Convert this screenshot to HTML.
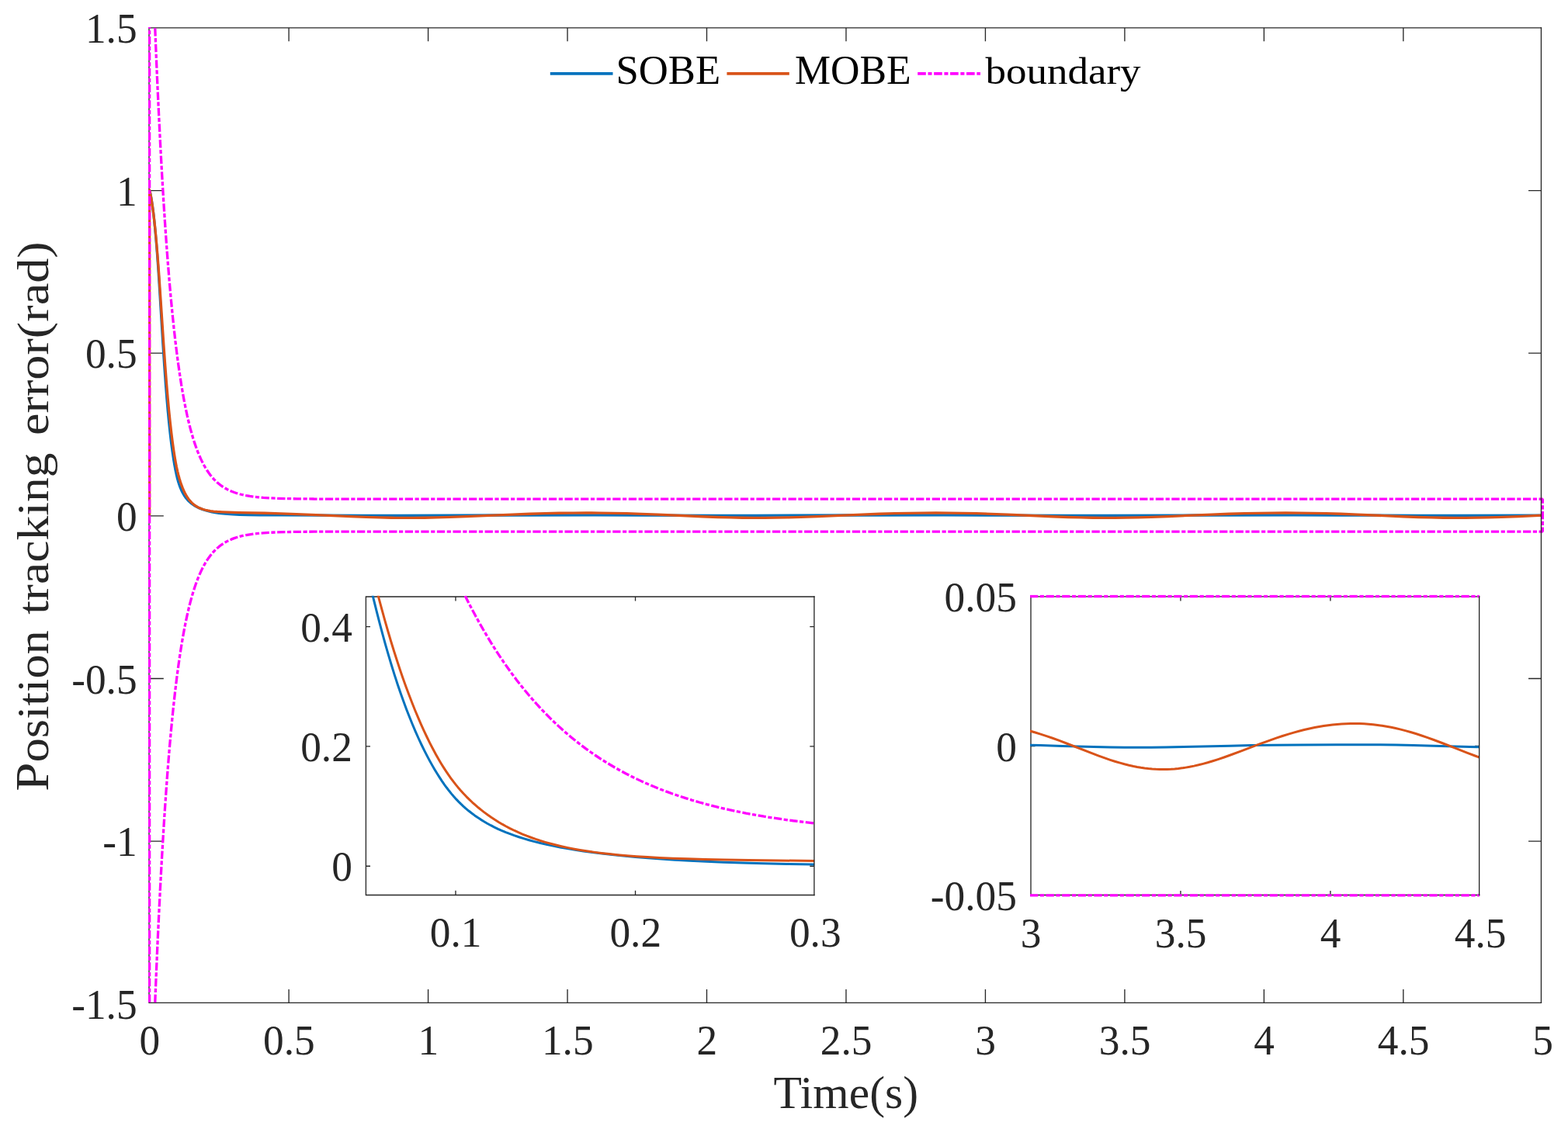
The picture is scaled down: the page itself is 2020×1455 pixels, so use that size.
<!DOCTYPE html>
<html lang="en">
<head>
<meta charset="utf-8">
<title>Position tracking error</title>
<style>
html,body{margin:0;padding:0;background:#fff;}
body{width:2020px;height:1455px;overflow:hidden;}
svg{display:block;}
text{font-family:"Liberation Serif","DejaVu Serif",serif;}
</style>
</head>
<body>
<svg width="2020" height="1455" viewBox="0 0 2020 1455">
<rect width="2020" height="1455" fill="#fff"/>
<g id="main">
<clipPath id="clip-main"><rect x="190.90" y="34.70" width="1798.30" height="1259.30"/></clipPath>
<g stroke="#262626" stroke-width="1.33" fill="none">
<path d="M1986.12 35.90H192.00V1292.40H1986.12"/>
<path d="M372.10 1292.40V1275.00M372.10 35.90V53.30M551.57 1292.40V1275.00M551.57 35.90V53.30M731.04 1292.40V1275.00M731.04 35.90V53.30M910.50 1292.40V1275.00M910.50 35.90V53.30M1089.97 1292.40V1275.00M1089.97 35.90V53.30M1269.44 1292.40V1275.00M1269.44 35.90V53.30M1448.91 1292.40V1275.00M1448.91 35.90V53.30M1628.38 1292.40V1275.00M1628.38 35.90V53.30M1807.84 1292.40V1275.00M1807.84 35.90V53.30M192.00 1084.15H210.80M1985.45 1084.15H1969.05M192.00 874.50H210.80M1985.45 874.50H1969.05M192.00 664.85H210.80M1985.45 664.85H1969.05M192.00 455.20H210.80M1985.45 455.20H1969.05M192.00 245.55H210.80M1985.45 245.55H1969.05"/>
</g>
<g clip-path="url(#clip-main)" fill="none" stroke-width="3.3" stroke-linejoin="round">
<path d="M192.63 244.80 L193.47 248.31 L194.43 253.02 L195.39 258.53 L196.46 265.72 L197.54 274.02 L198.62 283.44 L199.81 295.28 L201.13 309.97 L202.45 326.40 L203.76 344.72 L205.44 370.60 L209.74 441.04 L211.66 470.37 L213.33 493.92 L214.89 513.75 L216.32 530.31 L217.76 545.27 L219.20 558.72 L220.63 570.81 L222.07 581.63 L223.38 590.52 L224.70 598.49 L226.02 605.59 L227.21 611.28 L228.41 616.26 L229.49 620.19 L230.68 624.01 L231.88 627.37 L233.19 630.61 L234.51 633.47 L235.83 636.00 L237.14 638.24 L238.58 640.39 L240.13 642.45 L241.69 644.26 L243.36 646.00 L245.16 647.65 L247.07 649.22 L249.11 650.68 L251.26 652.04 L253.65 653.37 L256.29 654.64 L259.16 655.85 L262.27 656.98 L265.62 658.03 L269.21 658.99 L273.04 659.85 L277.22 660.62 L281.89 661.32 L287.15 661.94 L293.14 662.46 L300.08 662.91 L308.57 663.28 L319.46 663.57 L334.89 663.79 L363.97 663.96 L465.43 664.30 L514.78 664.33 L652.97 664.00 L767.83 663.94 L830.64 664.04 L923.97 664.32 L973.32 664.32 L1100.74 664.00 L1215.60 663.94 L1278.41 664.03 L1375.33 664.32 L1424.68 664.31 L1552.10 664.00 L1666.96 663.94 L1729.77 664.03 L1826.69 664.32 L1876.04 664.31 L1987.31 664.03" stroke="#0072BD"/>
<path d="M192.63 664.10 L192.63 244.80 L193.59 248.95 L194.55 253.82 L195.63 260.17 L196.70 267.49 L197.90 276.76 L199.10 287.25 L200.41 300.18 L201.85 315.95 L203.28 333.48 L204.84 354.56 L207.23 389.90 L210.94 445.41 L212.86 472.24 L214.53 493.84 L216.09 512.18 L217.64 528.88 L219.20 544.01 L220.75 557.72 L222.19 569.17 L223.62 579.51 L224.94 588.03 L226.26 595.67 L227.45 601.85 L228.65 607.36 L229.84 612.26 L231.16 617.04 L232.48 621.30 L233.91 625.46 L235.35 629.16 L236.78 632.47 L238.22 635.44 L239.66 638.09 L241.21 640.64 L242.77 642.91 L244.32 644.91 L245.88 646.69 L247.55 648.37 L249.23 649.85 L251.02 651.24 L252.94 652.51 L254.97 653.68 L257.12 654.72 L259.40 655.65 L261.91 656.51 L264.66 657.27 L267.65 657.93 L271.12 658.52 L275.19 659.05 L279.98 659.50 L285.96 659.88 L293.97 660.22 L307.37 660.56 L341.11 661.25 L361.57 661.81 L381.97 662.54 L407.10 663.60 L451.97 665.64 L471.71 666.41 L488.76 666.92 L504.01 667.24 L518.37 667.39 L532.73 667.39 L547.08 667.24 L562.34 666.94 L579.39 666.43 L600.03 665.66 L660.15 663.06 L682.58 662.23 L702.32 661.65 L720.27 661.27 L738.22 661.04 L755.27 660.98 L772.32 661.06 L789.36 661.30 L807.31 661.72 L826.16 662.31 L847.69 663.16 L905.12 665.73 L924.86 666.48 L941.01 666.95 L956.27 667.26 L970.63 667.39 L984.98 667.38 L999.34 667.22 L1014.60 666.91 L1031.65 666.39 L1053.18 665.57 L1110.61 663.09 L1133.04 662.25 L1152.79 661.67 L1170.73 661.28 L1188.68 661.05 L1205.73 660.98 L1222.78 661.06 L1239.83 661.29 L1257.77 661.70 L1276.62 662.29 L1298.15 663.13 L1356.48 665.74 L1376.22 666.49 L1392.38 666.96 L1407.63 667.26 L1421.99 667.39 L1436.34 667.38 L1450.70 667.22 L1465.96 666.90 L1483.01 666.38 L1504.54 665.56 L1561.07 663.11 L1583.51 662.27 L1603.25 661.68 L1621.20 661.29 L1639.14 661.05 L1656.19 660.98 L1673.24 661.05 L1690.29 661.28 L1708.24 661.68 L1727.08 662.27 L1748.62 663.11 L1807.84 665.76 L1827.58 666.50 L1843.74 666.97 L1858.99 667.26 L1873.35 667.40 L1887.71 667.38 L1902.06 667.21 L1917.32 666.89 L1934.37 666.37 L1955.90 665.55 L1987.31 664.17" stroke="#D95319"/>
<path d="M1987.31 664.10 L1987.31 643.13 L444.79 643.11 L404.41 643.02 L382.87 642.85 L367.80 642.59 L356.31 642.26 L347.10 641.85 L339.32 641.36 L332.74 640.79 L326.88 640.14 L321.73 639.42 L317.07 638.62 L312.76 637.73 L308.81 636.77 L305.10 635.70 L301.63 634.54 L298.40 633.30 L295.41 631.99 L292.54 630.56 L289.79 629.03 L287.15 627.39 L284.64 625.65 L282.25 623.81 L279.86 621.78 L277.58 619.65 L275.31 617.31 L273.16 614.88 L271.00 612.21 L268.85 609.30 L266.81 606.30 L264.78 603.03 L262.75 599.48 L260.71 595.60 L258.68 591.39 L256.65 586.79 L254.61 581.80 L252.70 576.69 L250.78 571.15 L248.87 565.16 L246.95 558.66 L245.04 551.63 L243.13 544.01 L241.21 535.75 L239.30 526.81 L237.38 517.12 L235.47 506.62 L233.55 495.25 L231.64 482.94 L229.72 469.59 L227.81 455.14 L225.90 439.48 L223.98 422.52 L222.07 404.15 L220.15 384.24 L218.24 362.68 L216.32 339.32 L214.41 314.02 L212.50 286.61 L210.58 256.91 L208.67 224.74 L206.75 189.90 L204.84 152.15 L202.92 111.26 L201.01 66.96 L199.71 34.70" stroke="#FF00FF" stroke-dasharray="10.3 2.55 5.175 2.55" stroke-dashoffset="5.15" stroke-linejoin="bevel"/>
<path d="M1987.31 664.10 L1987.31 685.07 L444.79 685.09 L404.41 685.18 L382.87 685.35 L367.80 685.61 L356.31 685.94 L347.10 686.35 L339.32 686.84 L332.74 687.41 L326.88 688.06 L321.73 688.78 L317.07 689.58 L312.76 690.47 L308.81 691.43 L305.10 692.50 L301.63 693.66 L298.40 694.90 L295.41 696.21 L292.54 697.64 L289.79 699.17 L287.15 700.81 L284.64 702.55 L282.25 704.39 L279.86 706.42 L277.58 708.55 L275.31 710.89 L273.16 713.32 L271.00 715.99 L268.85 718.90 L266.81 721.90 L264.78 725.17 L262.75 728.72 L260.71 732.60 L258.68 736.81 L256.65 741.41 L254.61 746.40 L252.70 751.51 L250.78 757.05 L248.87 763.04 L246.95 769.54 L245.04 776.57 L243.13 784.19 L241.21 792.45 L239.30 801.39 L237.38 811.08 L235.47 821.58 L233.55 832.95 L231.64 845.26 L229.72 858.61 L227.81 873.06 L225.90 888.72 L223.98 905.68 L222.07 924.05 L220.15 943.96 L218.24 965.52 L216.32 988.88 L214.41 1014.18 L212.50 1041.59 L210.58 1071.29 L208.67 1103.46 L206.75 1138.30 L204.84 1176.05 L202.92 1216.94 L201.01 1261.24 L199.69 1294.00" stroke="#FF00FF" stroke-dasharray="10.3 2.55 5.175 2.55" stroke-dashoffset="5.15" stroke-linejoin="bevel"/>
<path d="M192.63 1294.00 L192.63 34.70" stroke="#FF00FF" stroke-dasharray="10.3 2.55 5.175 2.55" stroke-dashoffset="18.28" stroke-linejoin="bevel"/>
</g>
<path d="M1985.45 35.23V1293.07" stroke="#262626" stroke-width="1.33" fill="none"/>
<g fill="#262626" font-size="53.33px">
<text transform="translate(192.83 1359.2) scale(1.0 1.036)" text-anchor="middle">0</text>
<text transform="translate(372.30 1359.2) scale(1.0 1.036)" text-anchor="middle">0.5</text>
<text transform="translate(551.77 1359.2) scale(1.0 1.036)" text-anchor="middle">1</text>
<text transform="translate(731.24 1359.2) scale(1.0 1.036)" text-anchor="middle">1.5</text>
<text transform="translate(910.71 1359.2) scale(1.0 1.036)" text-anchor="middle">2</text>
<text transform="translate(1090.17 1359.2) scale(1.0 1.036)" text-anchor="middle">2.5</text>
<text transform="translate(1269.64 1359.2) scale(1.0 1.036)" text-anchor="middle">3</text>
<text transform="translate(1449.11 1359.2) scale(1.0 1.036)" text-anchor="middle">3.5</text>
<text transform="translate(1628.58 1359.2) scale(1.0 1.036)" text-anchor="middle">4</text>
<text transform="translate(1808.04 1359.2) scale(1.0 1.036)" text-anchor="middle">4.5</text>
<text transform="translate(1987.51 1359.2) scale(1.0 1.036)" text-anchor="middle">5</text>
<text transform="translate(176.6 1313.00) scale(1.0 1.036)" text-anchor="end">-1.5</text>
<text transform="translate(176.6 1103.35) scale(1.0 1.036)" text-anchor="end">-1</text>
<text transform="translate(176.6 893.70) scale(1.0 1.036)" text-anchor="end">-0.5</text>
<text transform="translate(176.6 684.05) scale(1.0 1.036)" text-anchor="end">0</text>
<text transform="translate(176.6 474.40) scale(1.0 1.036)" text-anchor="end">0.5</text>
<text transform="translate(176.6 264.75) scale(1.0 1.036)" text-anchor="end">1</text>
<text transform="translate(176.6 55.10) scale(1.0 1.036)" text-anchor="end">1.5</text>
</g>
</g>
<g id="inset1">
<clipPath id="clip-inset1"><rect x="470.40" y="767.70" width="578.80" height="387.80"/></clipPath>
<g stroke="#262626" stroke-width="1.33" fill="none">
<path d="M1049.57 769.00H471.40V1153.47H1049.57"/>
<path d="M586.98 1153.47V1147.87M586.98 769.00V774.60M818.53 1153.47V1147.87M818.53 769.00V774.60M471.40 1116.27H477.00M1048.90 1116.27H1043.30M471.40 961.91H477.00M1048.90 961.91H1043.30M471.40 807.55H477.00M1048.90 807.55H1043.30"/>
</g>
<g clip-path="url(#clip-inset1)" fill="none" stroke-width="3.3" stroke-linejoin="round">
<path d="M473.15 737.70 L477.56 756.63 L481.41 772.67 L485.26 788.20 L489.11 803.19 L492.96 817.65 L496.81 831.57 L500.66 844.95 L504.51 857.80 L508.36 870.12 L512.21 881.94 L516.06 893.25 L519.91 904.07 L523.76 914.43 L527.61 924.33 L531.46 933.80 L535.31 942.85 L539.16 951.50 L543.01 959.75 L546.86 967.62 L550.71 975.12 L553.79 980.87 L556.87 986.39 L559.95 991.69 L563.03 996.78 L566.11 1001.66 L569.19 1006.33 L572.27 1010.78 L575.35 1015.02 L578.43 1019.04 L581.51 1022.86 L584.59 1026.47 L587.67 1029.89 L590.75 1033.12 L593.83 1036.18 L596.91 1039.07 L599.99 1041.81 L603.84 1045.03 L607.69 1048.05 L611.54 1050.90 L615.39 1053.58 L619.24 1056.11 L623.09 1058.50 L627.71 1061.20 L632.33 1063.71 L636.95 1066.07 L641.57 1068.28 L646.19 1070.34 L651.58 1072.60 L656.97 1074.69 L662.36 1076.65 L668.52 1078.73 L674.68 1080.67 L681.61 1082.69 L688.54 1084.58 L696.24 1086.52 L703.94 1088.31 L712.41 1090.13 L721.65 1091.95 L730.89 1093.62 L740.90 1095.28 L751.68 1096.91 L763.23 1098.50 L775.55 1100.04 L788.64 1101.53 L803.27 1103.03 L818.67 1104.45 L834.84 1105.78 L851.78 1107.02 L869.49 1108.15 L888.74 1109.23 L909.53 1110.23 L931.86 1111.15 L956.50 1111.99 L983.45 1112.74 L1013.48 1113.42 L1047.36 1114.01 L1079.20 1114.44" stroke="#0072BD" stroke-width="3"/>
<path d="M479.52 737.70 L483.72 754.36 L488.34 772.13 L492.19 786.45 L496.04 800.33 L499.89 813.76 L503.74 826.73 L507.59 839.25 L511.44 851.32 L515.29 862.96 L519.14 874.16 L522.99 884.94 L526.84 895.33 L530.69 905.32 L534.54 914.94 L538.39 924.19 L542.24 933.07 L546.09 941.59 L549.94 949.76 L553.79 957.58 L557.64 965.05 L561.49 972.18 L565.34 978.97 L568.42 984.16 L571.50 989.13 L574.58 993.88 L577.66 998.43 L580.74 1002.77 L583.82 1006.92 L586.90 1010.88 L589.98 1014.65 L593.06 1018.25 L596.91 1022.53 L600.76 1026.57 L604.61 1030.40 L608.46 1034.03 L612.31 1037.48 L616.16 1040.77 L620.01 1043.91 L623.86 1046.90 L628.48 1050.31 L633.10 1053.53 L637.72 1056.57 L642.34 1059.45 L646.96 1062.17 L651.58 1064.75 L656.97 1067.58 L662.36 1070.23 L667.75 1072.71 L673.14 1075.04 L678.53 1077.22 L683.92 1079.26 L690.08 1081.44 L696.24 1083.46 L702.40 1085.33 L709.33 1087.28 L716.26 1089.07 L723.19 1090.71 L730.89 1092.38 L738.59 1093.91 L747.06 1095.43 L755.53 1096.80 L764.77 1098.14 L774.78 1099.44 L784.79 1100.58 L795.57 1101.67 L807.12 1102.69 L820.21 1103.69 L834.07 1104.58 L849.47 1105.41 L866.41 1106.17 L885.66 1106.86 L907.99 1107.50 L933.40 1108.06 L964.20 1108.56 L1002.70 1109.01 L1056.60 1109.45 L1079.20 1109.60" stroke="#D95319" stroke-width="3"/>
<path d="M599.13 767.70 L603.84 777.04 L608.46 785.93 L613.08 794.55 L617.70 802.91 L622.32 811.03 L627.71 820.20 L633.10 829.06 L638.49 837.61 L643.88 845.86 L649.27 853.83 L654.66 861.53 L660.05 868.97 L665.44 876.14 L670.83 883.07 L676.22 889.76 L681.61 896.23 L687.00 902.47 L692.39 908.49 L697.78 914.31 L703.17 919.93 L708.56 925.35 L713.95 930.59 L719.34 935.65 L724.73 940.53 L730.12 945.25 L736.28 950.44 L742.44 955.43 L748.60 960.22 L754.76 964.82 L760.92 969.25 L767.08 973.50 L773.24 977.58 L779.40 981.50 L785.56 985.27 L792.49 989.34 L799.42 993.22 L806.35 996.94 L813.28 1000.49 L820.21 1003.88 L827.14 1007.13 L834.84 1010.57 L842.54 1013.84 L850.24 1016.95 L857.94 1019.91 L866.41 1023.00 L874.88 1025.92 L883.35 1028.69 L891.82 1031.31 L901.06 1034.01 L910.30 1036.55 L919.54 1038.94 L929.55 1041.38 L939.56 1043.66 L950.34 1045.96 L961.12 1048.10 L972.67 1050.23 L984.22 1052.21 L996.54 1054.17 L1008.86 1055.97 L1021.95 1057.74 L1035.81 1059.45 L1049.20 1060.97" stroke="#FF00FF" stroke-dasharray="10.3 2.55 5.175 2.55" stroke-dashoffset="0.00" stroke-linejoin="bevel"/>
</g>
<path d="M1048.90 768.34V1154.13" stroke="#262626" stroke-width="1.33" fill="none"/>
<g fill="#262626" font-size="53.33px">
<text transform="translate(587.18 1220.3) scale(1.0 1.036)" text-anchor="middle">0.1</text>
<text transform="translate(818.73 1220.3) scale(1.0 1.036)" text-anchor="middle">0.2</text>
<text transform="translate(1050.28 1220.3) scale(1.0 1.036)" text-anchor="middle">0.3</text>
<text transform="translate(453.8 1135.47) scale(1.0 1.036)" text-anchor="end">0</text>
<text transform="translate(453.8 981.11) scale(1.0 1.036)" text-anchor="end">0.2</text>
<text transform="translate(453.8 826.75) scale(1.0 1.036)" text-anchor="end">0.4</text>
</g>
</g>
<g id="inset2">
<clipPath id="clip-inset2"><rect x="1327.00" y="766.60" width="579.00" height="389.40"/></clipPath>
<g stroke="#262626" stroke-width="1.33" fill="none">
<path d="M1906.32 768.90H1328.00V1153.50H1906.32"/>
<path d="M1520.93 1153.50V1147.90M1520.93 768.90V774.50M1713.92 1153.50V1147.90M1713.92 768.90V774.50M1328.00 961.50H1333.60M1905.65 961.50H1900.05"/>
</g>
<g clip-path="url(#clip-inset2)" fill="none" stroke-width="3.3" stroke-linejoin="round">
<path d="M1297.00 959.88 L1318.29 960.17 L1340.48 960.62 L1368.47 961.38 L1409.00 962.55 L1430.22 963.02 L1448.56 963.28 L1465.93 963.37 L1483.30 963.30 L1501.63 963.07 L1524.79 962.60 L1584.62 961.13 L1611.64 960.61 L1639.62 960.23 L1675.32 959.94 L1721.64 959.73 L1752.52 959.71 L1776.64 959.83 L1798.84 960.09 L1821.03 960.52 L1847.08 961.20 L1893.40 962.53 L1914.63 963.01 L1932.96 963.28 L1936.00 963.30" stroke="#0072BD" stroke-width="3"/>
<path d="M1297.00 935.54 L1302.85 936.54 L1308.64 937.67 L1314.43 938.92 L1320.22 940.30 L1326.98 942.07 L1333.73 943.99 L1340.48 946.06 L1348.20 948.59 L1355.92 951.27 L1364.61 954.44 L1375.22 958.48 L1405.14 970.21 L1414.79 973.86 L1422.51 976.65 L1430.22 979.30 L1436.98 981.46 L1442.77 983.18 L1448.56 984.77 L1454.35 986.22 L1460.14 987.51 L1464.96 988.46 L1469.79 989.29 L1474.61 990.00 L1479.44 990.58 L1484.26 991.03 L1489.09 991.35 L1493.91 991.54 L1498.74 991.59 L1503.56 991.51 L1508.39 991.29 L1513.21 990.94 L1518.04 990.46 L1522.86 989.86 L1527.68 989.13 L1532.51 988.29 L1538.30 987.12 L1544.09 985.80 L1549.88 984.34 L1555.67 982.75 L1562.42 980.73 L1569.18 978.58 L1576.90 975.96 L1586.55 972.52 L1599.09 967.85 L1623.21 958.71 L1633.83 954.82 L1643.48 951.43 L1652.16 948.53 L1659.88 946.10 L1666.64 944.11 L1673.39 942.25 L1680.15 940.53 L1686.90 938.96 L1693.66 937.55 L1699.45 936.47 L1705.24 935.51 L1711.03 934.68 L1716.81 933.98 L1722.60 933.41 L1728.39 932.98 L1734.18 932.68 L1739.97 932.52 L1745.76 932.49 L1751.55 932.61 L1757.34 932.87 L1763.13 933.27 L1768.92 933.81 L1774.71 934.48 L1780.50 935.30 L1786.29 936.26 L1792.08 937.34 L1797.87 938.56 L1803.66 939.91 L1810.41 941.64 L1817.17 943.52 L1823.92 945.56 L1830.68 947.73 L1838.40 950.36 L1847.08 953.49 L1857.70 957.49 L1874.10 963.91 L1890.51 970.34 L1900.16 973.98 L1907.87 976.77 L1914.63 979.09 L1921.38 981.26 L1927.17 983.00 L1932.96 984.60 L1936.00 985.39" stroke="#D95319" stroke-width="3"/>
<path d="M1327.00 768.50 L1906.00 768.50" stroke="#FF00FF" stroke-dasharray="10.3 2.55 5.175 2.55" stroke-dashoffset="0.00" stroke-linejoin="bevel"/>
<path d="M1327.00 1153.90 L1906.00 1153.90" stroke="#FF00FF" stroke-dasharray="10.3 2.55 5.175 2.55" stroke-dashoffset="0.00" stroke-linejoin="bevel"/>
</g>
<path d="M1905.65 768.24V1154.16" stroke="#262626" stroke-width="1.33" fill="none"/>
<g fill="#262626" font-size="53.33px">
<text transform="translate(1328.14 1221.3) scale(1.0 1.036)" text-anchor="middle">3</text>
<text transform="translate(1521.13 1221.3) scale(1.0 1.036)" text-anchor="middle">3.5</text>
<text transform="translate(1714.12 1221.3) scale(1.0 1.036)" text-anchor="middle">4</text>
<text transform="translate(1907.11 1221.3) scale(1.0 1.036)" text-anchor="middle">4.5</text>
<text transform="translate(1309.9 1173.40) scale(1.0 1.036)" text-anchor="end">-0.05</text>
<text transform="translate(1309.9 980.70) scale(1.0 1.036)" text-anchor="end">0</text>
<text transform="translate(1309.9 788.00) scale(1.0 1.036)" text-anchor="end">0.05</text>
</g>
</g>
<g id="legend">
<path d="M708.8 94.9H789.5" stroke="#0072BD" stroke-width="3.6" fill="none"/>
<path d="M936.4 94.9H1016.8" stroke="#D95319" stroke-width="3.6" fill="none"/>
<path d="M1182.2 94.9H1263" stroke="#FF00FF" stroke-width="3.6" stroke-dasharray="10.6 2.7 5 2.65" fill="none"/>
<g fill="#000">
<text x="793.5" y="107.5" font-size="53.2px" textLength="134.6" lengthAdjust="spacingAndGlyphs">SOBE</text>
<text x="1024" y="107.5" font-size="53.2px" textLength="149.7" lengthAdjust="spacingAndGlyphs">MOBE</text>
<text x="1269.4" y="107.5" font-size="48.8px" textLength="200.2" lengthAdjust="spacingAndGlyphs">boundary</text>
</g></g>
<g id="labels" fill="#262626">
<text x="1089.75" y="1428.3" text-anchor="middle" font-size="59.6px">Time(s)</text>
<g transform="translate(61.6 0) rotate(-90)" font-size="57.5px">
<text x="-1019.8" y="0" textLength="207.6" lengthAdjust="spacingAndGlyphs"><tspan font-size="61.5px">P</tspan>osition</text>
<text x="-791.8" y="0" textLength="208.4" lengthAdjust="spacingAndGlyphs">tracking</text>
<text x="-561.0" y="0" textLength="249.7" lengthAdjust="spacingAndGlyphs">error(rad)</text>
</g>
</g>
</svg>
</body>
</html>
